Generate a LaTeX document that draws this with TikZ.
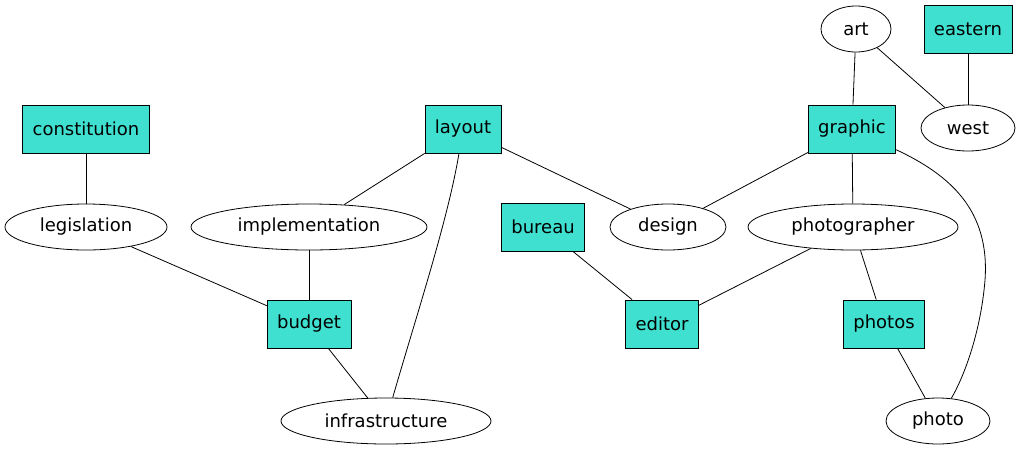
\documentclass[tikz,border=0pt]{standalone}
\usepackage{fontspec}
\setmainfont{DejaVu Sans}
\usetikzlibrary{shapes.geometric}
\definecolor{turq}{HTML}{40E0D0}
\begin{document}
\begin{tikzpicture}[x=1pt,y=-1pt,
  every node/.style={font=\fontsize{18}{20}\selectfont},
  boxn/.style={draw, fill=turq, rectangle, minimum height=48, inner xsep=10, inner ysep=0},
  elln/.style={draw, ellipse, minimum height=46, inner sep=0},
  every path/.style={line width=0.8pt}]
\useasboundingbox (0,0) rectangle (1020,453);
\node[elln, minimum width=70] (art) at (856,29) {art};
\node[boxn] (eastern) at (968,29) {eastern};
\node[elln, minimum width=94] (west) at (968,128) {west};
\node[boxn] (constitution) at (86,129) {constitution};
\node[boxn] (layout) at (463,129) {layout};
\node[boxn] (graphic) at (852,129) {graphic};
\node[elln, minimum width=162] (legislation) at (86,227) {legislation};
\node[elln, minimum width=236] (implementation) at (309,227) {implementation};
\node[boxn] (bureau) at (543,227) {bureau};
\node[elln, minimum width=116] (design) at (668,227) {design};
\node[elln, minimum width=210] (photographer) at (853,227) {photographer};
\node[boxn] (budget) at (309,324) {budget};
\node[boxn] (editor) at (662,324) {editor};
\node[boxn] (photos) at (884,324) {photos};
\node[elln, minimum width=210] (infrastructure) at (386,421) {infrastructure};
\node[elln, minimum width=104] (photo) at (938,421) {photo};

\draw (constitution) -- (legislation);
\draw (legislation) -- (budget);
\draw (implementation) -- (budget);
\draw (layout) -- (implementation);
\draw (layout) .. controls (448,220) and (415,320) .. (infrastructure);
\draw (layout) -- (design);
\draw (budget) -- (infrastructure);
\draw (bureau) -- (editor);
\draw (photographer) -- (editor);
\draw (graphic) -- (design);
\draw (graphic) -- (photographer);
\draw (graphic) .. controls (950,175) and (990,210) .. (985,280) .. controls (981,330) and (965,375) .. (photo);
\draw (art) -- (graphic);
\draw (art) -- (west);
\draw (eastern) -- (west);
\draw (photographer) -- (photos);
\draw (photos) -- (photo);
\end{tikzpicture}
\end{document}
